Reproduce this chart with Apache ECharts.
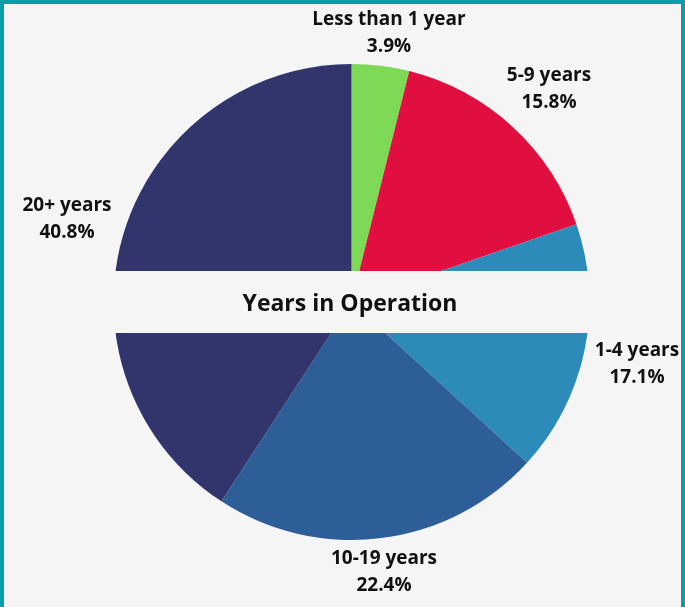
<!DOCTYPE html>
<html>
<head>
<meta charset="utf-8">
<script src="https://cdn.jsdelivr.net/npm/echarts@6/dist/echarts.min.js"></script>
<style>
  html, body { margin: 0; padding: 0; background: #f5f5f5; }
  #main { width: 685px; height: 607px; }
</style>
</head>
<body>
<div id="main"></div>
<script>
// years in operation, share of respondents (%)
var categories = ['Less than 1 year', '5-9 years', '1-4 years', '10-19 years', '20+ years'];
var shares = [3.9, 15.8, 17.1, 22.4, 40.8];
var colors = ['#7ED957', '#E10E40', '#2D8BBA', '#2E5E98', '#31356B'];
// where each label block sits (centre of the two lines)
var labelPos = [[389, 33], [549, 89], [637, 364], [384, 572], [67, 219]];

var chart = echarts.init(document.getElementById('main'));

var pieData = [];
for (var i = 0; i < categories.length; i++) {
	pieData.push({ name: categories[i], value: shares[i], itemStyle: { color: colors[i] } });
}

chart.setOption({
	backgroundColor: '#f5f5f5',
	animation: false,
	title: {
		text: 'Years in Operation',
		left: 345,
		top: 288,
		textAlign: 'center',
		textStyle: {
			fontFamily: 'Open Sans',
			fontWeight: 'bold',
			fontSize: 23,
			color: '#111111'
		},
		z: 10
	},
	series: [{
		type: 'pie',
		center: [351.5, 302],
		radius: 238,
		startAngle: 90,
		clockwise: true,
		silent: true,
		data: pieData,
		label: {
			show: true,
			position: 'outside',
			formatter: '{b}\n{c}%',
			fontFamily: 'Open Sans',
			fontWeight: 'bold',
			fontSize: 19,
			lineHeight: 27,
			color: '#111111',
			overflow: 'none'
		},
		labelLine: { show: false },
		labelLayout: function (params) {
			var p = labelPos[params.dataIndex];
			return { x: p[0], y: p[1], align: 'center', verticalAlign: 'middle', width: 220 };
		}
	}],
	graphic: [
		// band cut through the middle of the pie, holds the title
		{ type: 'rect', shape: { x: 100, y: 271, width: 500, height: 62 }, style: { fill: '#f5f5f5' }, z: 5 },
		// teal frame
		{ type: 'rect', shape: { x: 0, y: 0, width: 685, height: 4 }, style: { fill: '#0A9EAA' }, z: 20 },
		{ type: 'rect', shape: { x: 0, y: 0, width: 4, height: 607 }, style: { fill: '#0A9EAA' }, z: 20 },
		{ type: 'rect', shape: { x: 681, y: 0, width: 4, height: 607 }, style: { fill: '#0A9EAA' }, z: 20 }
	]
});
</script>
</body>
</html>
